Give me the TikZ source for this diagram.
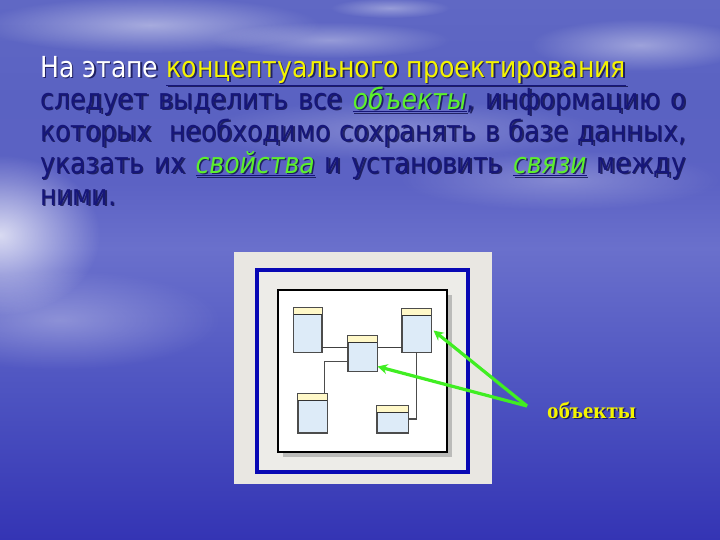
\documentclass[tikz,border=0pt]{standalone}
\usepackage{fontspec}
\setmainfont[FakeStretch=0.965]{DejaVu Sans Condensed}
\newfontfamily\serifb{Liberation Serif}
\usetikzlibrary{arrows.meta,calc,shadows,fadings}
\tikzfading[name=softcirc, inner color=transparent!0, outer color=transparent!100]
\definecolor{bgA}{HTML}{6068C4}
\definecolor{bgB}{HTML}{5A62C2}
\definecolor{bgC}{HTML}{5C62C4}
\definecolor{bgD}{HTML}{6A70CC}
\definecolor{bgE}{HTML}{4C52C0}
\definecolor{bgF}{HTML}{3434B4}
\definecolor{navy}{HTML}{16167A}
\definecolor{shd}{HTML}{10104A}
\definecolor{cY}{HTML}{F4F400}
\definecolor{cG}{HTML}{5CF02C}
\definecolor{cW}{HTML}{FFFFFF}
\definecolor{arrg}{HTML}{40EE22}
\definecolor{panel}{HTML}{E9E7E2}
\definecolor{bluefr}{HTML}{0808B4}
\definecolor{tbody}{HTML}{DDEBF8}
\definecolor{thead}{HTML}{FFF8C8}
\pgfdeclareverticalshading{bgsh}{100bp}{color(0bp)=(bgF); color(25bp)=(bgF); color(38bp)=(bgE); color(52bp)=(bgD); color(58bp)=(bgC); color(66bp)=(bgB); color(75bp)=(bgA); color(100bp)=(bgA)}
\tikzset{
  tbl/.style={draw=black!70, line width=1pt, fill=tbody, inner sep=0pt, minimum width=#1},
  conn/.style={draw=black!75, line width=0.8pt},
  connb/.style={draw=black!70, line width=1.8pt},
  garrow/.style={draw=arrg, line width=3.2pt, -{Stealth[length=10pt,width=10pt]}},
  cloud/.style={fill=white, path fading=softcirc, opacity=#1},
  para/.style={anchor=north west, inner sep=0pt, text width=646pt, align=justify,
    font=\fontsize{29}{32}\selectfont},
}
\newcommand{\grw}[1]{\underline{\textcolor{cG}{\itshape #1}}}
\newcommand{\paratext}{\textcolor{cW}{На этапе} \underline{\textcolor{cY}{концептуального проектирования}}\\
следует выделить все \grw{объекты}, информацию о\linebreak
которых\ \ необходимо сохранять в базе данных,\linebreak
указать их \grw{свойства} и установить \grw{связи} между\linebreak
ними.}
\begin{document}
\begin{tikzpicture}[x=1pt,y=-1pt]
\useasboundingbox (0,0) rectangle (720,540);
\shade[shading=bgsh] (0,0) rectangle (720,540);
% clouds and glow
\fill[cloud=0.45] (150,25) ellipse (170 and 28);
\fill[cloud=0.35] (330,40) ellipse (120 and 18);
\fill[cloud=0.35] (390,8) ellipse (60 and 10);
\fill[cloud=0.40] (640,45) ellipse (110 and 26);
\fill[cloud=0.25] (560,180) ellipse (160 and 30);
\fill[cloud=0.25] (400,130) ellipse (200 and 30);
\fill[cloud=0.75] (0,235) ellipse (100 and 80);
\fill[cloud=0.30] (60,320) ellipse (160 and 50);
% text shadow + text
\node[para, text=shd, opacity=0.8] (txtshadow) at (41.6,57.6)
  {\colorlet{cW}{shd}\colorlet{cY}{shd}\colorlet{cG}{shd}\paratext};
\node[para, text=navy] (txt) at (40,56) {\paratext};
% panel
\node[fill=panel, minimum width=258pt, minimum height=232pt, inner sep=0pt] (panel) at (363,368) {};
\node[draw=bluefr, line width=4pt, fill=panel!80!white, minimum width=211pt, minimum height=202pt, inner sep=0pt] (frame) at (362.5,370.5) {};
\node[draw=black, line width=2pt, fill=white, minimum width=169pt, minimum height=162pt, inner sep=0pt,
  drop shadow={opacity=0.45, shadow xshift=5pt, shadow yshift=-5pt}] (board) at (362,371) {};
% tables
\node[tbl=28pt, minimum height=44pt] (t1) at (307.5,330) {};
\node[tbl=29pt, minimum height=35pt] (t2) at (362.5,353.5) {};
\node[tbl=29pt, minimum height=43pt] (t3) at (416.5,330.5) {};
\node[tbl=29pt, minimum height=39pt] (t4) at (312.5,413) {};
\node[tbl=31pt, minimum height=27pt] (t5) at (392.5,419) {};
\foreach \t in {t1,t2,t3,t4,t5}{
  \fill[thead] (\t.north west) rectangle ($(\t.north east)+(0,7)$);
  \draw[black!80, line width=1pt] ($(\t.north west)+(0,7)$) -- ($(\t.north east)+(0,7)$);
  \draw[black!70, line width=1pt] (\t.north west) rectangle (\t.south east);
}
% connectors
\draw[conn] ([yshift=-17pt]t1.east) -- ([yshift=-17pt]t1.east -| t2.west);
\draw[conn] ([yshift=-17pt]t3.west) -- ([yshift=-17pt]t3.west -| t2.east);
\draw[connb] ([xshift=12pt]t4.north) |- ([yshift=-8pt]t2.west);
\draw[connb] (t5.east) -| (t3.south);
% label and arrows
\node[anchor=west, inner sep=0pt, text=shd, opacity=0.8, font=\serifb\bfseries\fontsize{23}{26}\selectfont] (lblshadow) at (548.5,411.5) {объекты};
\node[anchor=west, inner sep=0pt, text=cY, font=\serifb\bfseries\fontsize{23}{26}\selectfont] (lbl) at (547,410) {объекты};
\coordinate (src) at (527,406);
\draw[garrow] (src) -- ([xshift=2pt]t3.east);
\draw[garrow] (src) -- ([yshift=5pt]t2.south east);
\end{tikzpicture}
\end{document}
